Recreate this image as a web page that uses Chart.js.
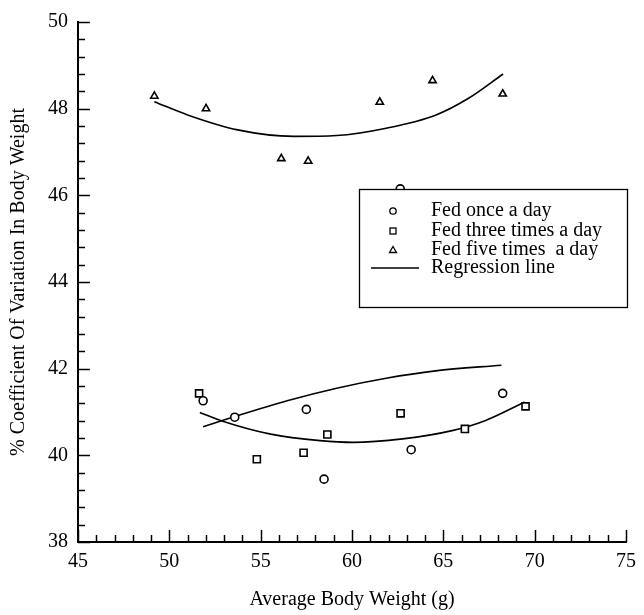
<!DOCTYPE html>
<html>
<head>
<meta charset="utf-8">
<script src="https://cdn.jsdelivr.net/npm/chart.js@4.4.1/dist/chart.umd.min.js"></script>
<style>
  html, body { margin: 0; padding: 0; background: #fff; }
  #wrap { width: 644px; height: 615px; position: relative; }
</style>
</head>
<body>
<div id="wrap"><canvas id="cv"></canvas></div>
<script>
// values
const onceX  = [51.85, 53.58, 57.5, 58.47, 62.64, 63.24, 68.25];
const onceY  = [41.26, 40.88, 41.06, 39.45, 46.15, 40.13, 41.43];
const threeX = [51.63, 54.79, 57.35, 58.65, 62.66, 66.18, 69.5];
const threeY = [41.43, 39.91, 40.06, 40.48, 40.97, 40.61, 41.13];
const fiveX  = [49.18, 52.01, 56.13, 57.6, 61.52, 64.41, 68.25];
const fiveY  = [48.29, 48.0, 46.85, 46.79, 48.15, 48.65, 48.34];

// regression curves, points
const fitFiveX  = [49.18, 51.04, 53.74, 56.81, 59.16, 61.87, 64.57, 66.38, 68.27];
const fitFiveY  = [48.16, 47.85, 47.51, 47.36, 47.38, 47.55, 47.85, 48.24, 48.80];
const fitOnceX  = [51.85, 53.62, 56.45, 59.16, 61.87, 64.57, 68.18];
const fitOnceY  = [40.66, 40.90, 41.26, 41.55, 41.78, 41.95, 42.08];
const fitThreeX = [51.67, 52.84, 55.55, 58.25, 60.06, 62.77, 65.48, 67.28, 69.45];
const fitThreeY = [40.99, 40.80, 40.49, 40.34, 40.30, 40.38, 40.57, 40.80, 41.23];

const xRange = [45, 75];
const yRange = [38, 50];
const xMajor = 5, xMinor = 1;
const yMajor = 2, yMinor = 0.4;

const legendLabels = ['Fed once a day', 'Fed three times a day', 'Fed five times  a day', 'Regression line'];
const xTitle = 'Average Body Weight (g)';
const yTitle = '% Coefficient Of Variation In Body Weight';

const serif = "'Liberation Serif', 'Times New Roman', serif";

const pts = (xs, ys) => xs.map((x, i) => ({ x: x, y: ys[i] }));

function markerSet(label, xs, ys, style, radius) {
    return {
        label: label,
        data: pts(xs, ys),
        showLine: false,
        pointStyle: style,
        pointRadius: radius,
        pointHoverRadius: radius,
        pointBorderWidth: 1.6,
        pointBorderColor: '#000',
        pointBackgroundColor: '#fff',
        order: 1
    };
}

function fitSet(xs, ys) {
    return {
        label: 'Regression line',
        data: pts(xs, ys),
        showLine: true,
        borderColor: '#000',
        borderWidth: 1.6,
        pointRadius: 0,
        cubicInterpolationMode: 'monotone',
        fill: false,
        order: 2
    };
}

// inward tick marks on both axes
const innerTicks = {
    id: 'innerTicks',
    afterDraw(chart) {
        const ctx = chart.ctx;
        const xs = chart.scales.x, ys = chart.scales.y;
        const a = chart.chartArea;
        ctx.save();
        ctx.strokeStyle = '#000';
        ctx.lineWidth = 1.5;
        for (let v = xRange[0]; v <= xRange[1] + 1e-6; v += xMinor) {
            const px = Math.round(xs.getPixelForValue(v)) + 0.5;
            const major = Math.abs(v / xMajor - Math.round(v / xMajor)) < 1e-6;
            ctx.beginPath();
            ctx.moveTo(px, a.bottom);
            ctx.lineTo(px, a.bottom - (major ? 12 : 7));
            ctx.stroke();
        }
        for (let i = 0; yRange[0] + i * yMinor <= yRange[1] + 1e-6; i++) {
            const v = yRange[0] + i * yMinor;
            const py = Math.round(ys.getPixelForValue(v)) + 0.5;
            const major = Math.abs(v / yMajor - Math.round(v / yMajor)) < 1e-6;
            ctx.beginPath();
            ctx.moveTo(a.left, py);
            ctx.lineTo(a.left + (major ? 12 : 7), py);
            ctx.stroke();
        }
        ctx.restore();
    }
};

// boxed legend sitting inside the plot
const boxLegend = {
    id: 'boxLegend',
    afterDatasetsDraw(chart) {
        const ctx = chart.ctx;
        const a = chart.chartArea;
        const left = a.left + 281, top = a.top + 167, w = 268, h = 118;
        ctx.save();
        ctx.fillStyle = '#fff';
        ctx.fillRect(left, top, w, h);
        ctx.strokeStyle = '#000';
        ctx.lineWidth = 1.3;
        ctx.strokeRect(left + 0.5, top + 0.5, w, h);

        ctx.font = '20px ' + serif;
        ctx.fillStyle = '#000';
        ctx.textBaseline = 'middle';
        const mx = left + 34, tx = left + 72;
        const rows = [top + 22, top + 42, top + 61, top + 79];
        ctx.lineWidth = 1.3;
        // circle
        ctx.beginPath();
        ctx.arc(mx, rows[0], 3.2, 0, Math.PI * 2);
        ctx.stroke();
        // square
        ctx.strokeRect(mx - 3, rows[1] - 3, 6, 6);
        // triangle
        ctx.beginPath();
        ctx.moveTo(mx, rows[2] - 3.5);
        ctx.lineTo(mx + 3.5, rows[2] + 2.5);
        ctx.lineTo(mx - 3.5, rows[2] + 2.5);
        ctx.closePath();
        ctx.stroke();
        // line
        ctx.beginPath();
        ctx.moveTo(left + 12, rows[3]);
        ctx.lineTo(left + 60, rows[3]);
        ctx.stroke();

        legendLabels.forEach((t, i) => ctx.fillText(t, tx, rows[i]));
        ctx.restore();
    }
};

new Chart(document.getElementById('cv'), {
    type: 'scatter',
    data: {
        datasets: [
            markerSet(legendLabels[0], onceX, onceY, 'circle', 4),
            markerSet(legendLabels[1], threeX, threeY, 'rect', 5),
            markerSet(legendLabels[2], fiveX, fiveY, 'triangle', 4.2),
            fitSet(fitFiveX, fitFiveY),
            fitSet(fitOnceX, fitOnceY),
            fitSet(fitThreeX, fitThreeY)
        ]
    },
    options: {
        responsive: true,
        maintainAspectRatio: false,
        animation: false,
        layout: { padding: { top: 20, right: 11, left: 0, bottom: 0 } },
        plugins: {
            legend: { display: false },
            tooltip: { enabled: false }
        },
        scales: {
            x: {
                type: 'linear',
                min: xRange[0],
                max: xRange[1],
                afterFit(s) { s.height = 73; },
                grid: { display: false, drawTicks: false },
                border: { display: true, color: '#000', width: 2 },
                ticks: {
                    stepSize: xMajor,
                    padding: 8,
                    color: '#000',
                    font: { family: serif, size: 20 }
                },
                title: {
                    display: true,
                    text: xTitle,
                    color: '#000',
                    font: { family: serif, size: 20 },
                    padding: { top: 0, bottom: 3 }
                }
            },
            y: {
                type: 'linear',
                min: yRange[0],
                max: yRange[1],
                afterFit(s) { s.width = 78; },
                grid: { display: false, drawTicks: false },
                border: { display: true, color: '#000', width: 2 },
                ticks: {
                    stepSize: yMajor,
                    padding: 10,
                    color: '#000',
                    font: { family: serif, size: 20 }
                },
                title: {
                    display: true,
                    text: yTitle,
                    color: '#000',
                    font: { family: serif, size: 20 },
                    padding: { top: 7, bottom: 0 }
                }
            }
        }
    },
    plugins: [innerTicks, boxLegend]
});
</script>
</body>
</html>
